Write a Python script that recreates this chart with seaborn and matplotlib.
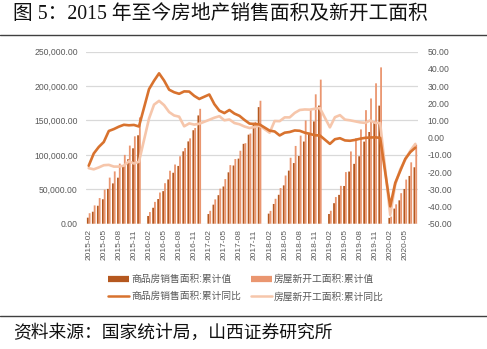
import numpy as np
import pandas as pd
import matplotlib
matplotlib.use("Agg")
import matplotlib.pyplot as plt
import seaborn as sns
from matplotlib.lines import Line2D
from matplotlib.ticker import FuncFormatter, MultipleLocator

nan = np.nan

# Monthly categories, 2015-02 .. 2020-07 (January slots kept empty)
months = [str(p) for p in pd.period_range("2015-02", "2020-07", freq="M")]

# 商品房销售面积:累计值 (万平方米)
sales_cum = [
    8761, 17405, 26088, 35525, 50577, 58581, 66877, 83010, 93645, 109568, 128495,
    nan, 11230, 23166, 35847, 47320, 64302, 74025, 83939, 105185, 119574, 135829, 157349,
    nan, 14049, 27682, 41475, 54087, 74662, 84574, 94589, 116020, 129375, 146552, 169408,
    nan, 14626, 28680, 42016, 55713, 77143, 88126, 98373, 119384, 132221, 148604, 171654,
    nan, 14102, 29829, 41890, 54820, 75786, 86981, 98000, 119300, 133251, 148905, 171558,
    nan, 8475, 21978, 33973, 50464, 69404, 82000,
]

# 房屋新开工面积:累计值 (万平方米)
new_cum = [
    15278, 26599, 37276, 49502, 66981, 76000, 87300, 100000, 113500, 127000, 154454,
    nan, 16974, 31706, 45276, 58862, 76964, 86000, 98000, 110000, 124000, 139000, 166928,
    nan, 18757, 35371, 50933, 64825, 85157, 94000, 106000, 117000, 131000, 148000, 178654,
    nan, 18627, 36214, 51778, 70000, 95817, 113000, 128000, 150000, 166000, 188000, 209342,
    nan, 18814, 38728, 55000, 75000, 105000, 124000, 137000, 165000, 182000, 204000, 227154,
    nan, 10370, 28203, 44359, 64134, 89173, 115000,
]

# 商品房销售面积:累计同比 (%)
sales_yoy = [
    -16.3, -9.2, -5.4, -2.5, 3.9, 5.0, 6.4, 7.5, 7.2, 7.4, 6.5,
    nan, 28.2, 33.1, 37.4, 33.2, 27.9, 26.4, 25.5, 26.9, 26.8, 24.3, 22.5,
    nan, 25.1, 19.5, 15.7, 14.3, 16.1, 14.0, 12.7, 10.3, 8.2, 7.9, 7.7,
    nan, 4.1, 3.6, 1.3, 2.9, 3.3, 4.2, 4.0, 2.9, 2.2, 1.4, 1.3,
    nan, -3.6, -0.9, -0.3, -1.6, -1.8, -1.3, -0.6, -0.1, 0.1, 0.2, -0.1,
    nan, -39.9, -26.3, -19.3, -12.3, -8.4, -5.8,
]

# 房屋新开工面积:累计同比 (%)
new_yoy = [
    -17.7, -18.4, -17.3, -16.0, -15.8, -16.8, -16.8, -16.3, -13.7, -15.0, -14.0,
    nan, 11.1, 19.2, 21.4, 18.9, 14.9, 12.9, 12.2, 6.6, 8.3, 7.6, 8.1,
    nan, 10.4, 11.6, 12.5, 10.1, 10.6, 8.5, 7.8, 6.5, 5.6, 6.2, 7.0,
    nan, 2.9, 9.7, 9.6, 11.8, 11.8, 14.4, 16.1, 16.4, 16.3, 16.8, 17.2,
    nan, 6.0, 11.9, 13.1, 10.5, 10.1, 9.5, 8.9, 8.6, 10.0, 8.6, 8.5,
    nan, -44.9, -27.2, -18.4, -12.8, -7.6, -3.6,
]

bar_names = ["商品房销售面积:累计值", "房屋新开工面积:累计值"]
line_names = ["商品房销售面积:累计同比", "房屋新开工面积:累计同比"]

c_sales_bar = "#B5581F"
c_new_bar = "#EA9670"
c_sales_line = "#D8722E"
c_new_line = "#F6C6AB"
grid_c = "#D9D9D9"
txt_c = "#595959"

sns.set_theme(style="white")
plt.rcParams["font.family"] = ["Liberation Sans", "Noto Sans CJK SC"]
plt.rcParams["axes.unicode_minus"] = False

fig = plt.figure(figsize=(4.87, 3.49), dpi=100)
ax = fig.add_axes([0.177, 0.359, 0.681, 0.493])

bars = pd.DataFrame({"月份": months, bar_names[0]: sales_cum, bar_names[1]: new_cum})
bars_long = bars.melt(id_vars="月份", var_name="指标", value_name="值")
sns.barplot(data=bars_long, x="月份", y="值", hue="指标", order=months,
            hue_order=bar_names, palette=[c_sales_bar, c_new_bar],
            width=0.72, saturation=1, errorbar=None, legend=False, ax=ax)
# thin bars: keep them from being snapped away to zero pixels
for patch in ax.patches:
    patch.set_snap(False)
    patch.set_linewidth(0)

ax.set_xlim(-0.5, len(months) - 0.5)
ax.set_ylim(0, 250000)
ax.yaxis.set_major_locator(MultipleLocator(50000))
ax.yaxis.set_major_formatter(FuncFormatter(lambda v, p: f"{v:,.2f}"))
ax.yaxis.grid(True, color=grid_c, lw=0.9)
ax.set_axisbelow(True)
ax.set_xlabel("")
ax.set_ylabel("")
ax.set_xticks(range(0, len(months), 3))
ax.set_xticklabels(months[::3], rotation=90)
ax.tick_params(axis="x", length=0, pad=4, labelsize=6, labelcolor=txt_c)
ax.tick_params(axis="y", length=0, pad=6, labelsize=6.2, labelcolor=txt_c)
for s in ax.spines.values():
    s.set_visible(False)

ax2 = ax.twinx()
pos = np.arange(len(months))
lines = pd.DataFrame({"pos": pos, "sales": sales_yoy, "new": new_yoy})
ln_new = lines.dropna(subset=["new"])
ln_sales = lines.dropna(subset=["sales"])
sns.lineplot(x=ln_new["pos"], y=ln_new["new"], ax=ax2, color=c_new_line, lw=1.9)
sns.lineplot(x=ln_sales["pos"], y=ln_sales["sales"], ax=ax2, color=c_sales_line, lw=1.9)
ax2.set_xlim(-0.5, len(months) - 0.5)
ax2.set_ylim(-50, 50)
ax2.yaxis.set_major_locator(MultipleLocator(10))
ax2.yaxis.set_major_formatter(FuncFormatter(lambda v, p: f"{v:.2f}"))
ax2.set_ylabel("")
ax2.tick_params(axis="y", length=0, pad=7, labelsize=6.2, labelcolor=txt_c)
ax2.grid(False)
for s in ax2.spines.values():
    s.set_visible(False)

handles = [
    Line2D([], [], color=c_sales_bar, lw=4.5, solid_capstyle="butt"),
    Line2D([], [], color=c_sales_line, lw=1.8),
    Line2D([], [], color=c_new_bar, lw=4.5, solid_capstyle="butt"),
    Line2D([], [], color=c_new_line, lw=1.8),
]
labels = [bar_names[0], line_names[0], bar_names[1], line_names[1]]
fig.legend(handles, labels, loc="center", bbox_to_anchor=(0.505, 0.176), ncol=2,
           frameon=False, fontsize=7, labelcolor=txt_c, handlelength=2.2,
           handletextpad=0.2, columnspacing=1.0, labelspacing=0.75)

title_font = ["Liberation Serif", "Noto Sans CJK SC"]
fig.text(13 / 487, 1 - 14 / 349, "图 5：2015 年至今房地产销售面积及新开工面积",
         ha="left", va="center", fontsize=14.2, color="#111111", family=title_font)
fig.text(13 / 487, 1 - 333 / 349, "资料来源：国家统计局，山西证券研究所",
         ha="left", va="center", fontsize=12.8, color="#111111", family=title_font)

fig.add_artist(Line2D([0, 1], [1 - 35 / 349, 1 - 35 / 349], color="#404040", lw=1.0))
fig.add_artist(Line2D([0, 1], [1 - 316 / 349, 1 - 316 / 349], color="#404040", lw=1.0))

fig.savefig("out.png", dpi=100)
